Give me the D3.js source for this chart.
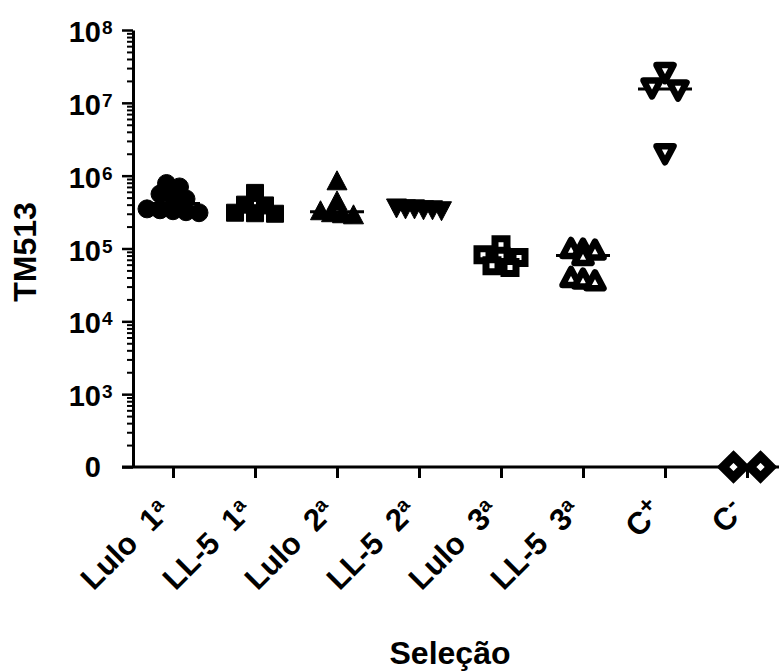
<!DOCTYPE html>
<html>
<head>
<meta charset="utf-8">
<script src="https://cdn.jsdelivr.net/npm/d3@7"></script>
<style>
  body { margin: 0; background: #fff; }
  text { font-family: Arial, "Liberation Sans", sans-serif; font-weight: bold; fill: #000; }
</style>
</head>
<body>
<script>
// groups on the x axis
const categories = ["Lulo 1a", "LL-5 1a", "Lulo 2a", "LL-5 2a", "Lulo 3a", "LL-5 3a", "C+", "C-"];
const labelMain = ["Lulo  1", "LL-5  1", "Lulo  2", "LL-5  2", "Lulo  3", "LL-5  3", "C", "C"];
const labelSup = ["a", "a", "a", "a", "a", "a", "+", "-"];

// TM513 values (0 = plotted on the "0" baseline)
const lulo1 = [780000, 700000, 560000, 510000, 480000, 350000, 340000, 330000, 320000, 310000];
const ll5_1 = [580000, 400000, 390000, 310000, 305000, 300000];
const lulo2 = [850000, 450000, 330000, 310000, 300000, 290000];
const ll5_2 = [360000, 350000, 350000, 340000, 340000, 330000];
const lulo3 = [113000, 82000, 78000, 75000, 58000, 55000];
const ll5_3 = [100000, 98000, 95000, 80000, 40000, 38000, 36000];
const cPlus = [26000000, 16000000, 15000000, 2000000];
const cMinus = [0, 0];

const groupValues = [lulo1, ll5_1, lulo2, ll5_2, lulo3, ll5_3, cPlus, cMinus];
const markerShapes = ["circle", "square", "triangle", "triangleDown", "squareOpen", "triangleOpen", "triangleDownOpen", "diamondOpen"];

// y ticks: exponents, bottom one is drawn as "0"
const yExponents = [2, 3, 4, 5, 6, 7, 8];

const width = 779, height = 671;

const svg = d3.select("body").append("svg")
    .attr("width", width)
    .attr("height", height);

const y = d3.scaleLog()
    .domain([1e2, 1e8])
    .range([467, 30]);

const x = d3.scalePoint()
    .domain(categories)
    .range([173, 747]);

const yv = v => v > 0 ? y(v) : y(1e2);

// minor log ticks
const minorTicks = [];
for (let e = 2; e < 8; e++) {
    for (let m = 2; m <= 9; m++) minorTicks.push(m * Math.pow(10, e));
}

const yMinor = svg.append("g")
    .attr("transform", "translate(133,0)")
    .call(d3.axisLeft(y).tickValues(minorTicks).tickSize(6).tickSizeOuter(0).tickFormat(""));
yMinor.select(".domain").remove();
yMinor.selectAll("line").attr("stroke-width", 2);

const yAxis = svg.append("g")
    .attr("transform", "translate(133,0)")
    .call(d3.axisLeft(y).tickValues(yExponents.map(e => Math.pow(10, e))).tickSize(11).tickSizeOuter(0).tickFormat(""));
yAxis.select(".domain").attr("stroke-width", 3);
yAxis.selectAll("line").attr("stroke-width", 2.5);

// y tick labels, 10 with superscript exponent
yExponents.forEach(e => {
    const ty = y(Math.pow(10, e));
    if (e === 2) {
        svg.append("text")
            .attr("x", 101).attr("y", ty + 10)
            .attr("text-anchor", "end")
            .style("font-size", "29px")
            .text("0");
    } else {
        svg.append("text")
            .attr("x", 101).attr("y", ty + 12)
            .attr("text-anchor", "end")
            .style("font-size", "29px")
            .text("10");
        svg.append("text")
            .attr("x", 102).attr("y", ty + 4)
            .style("font-size", "19px")
            .text(e);
    }
});

// x axis
const xAxis = svg.append("g")
    .attr("transform", "translate(0,467)")
    .call(d3.axisBottom(x).tickSize(11).tickSizeOuter(0).tickFormat(""));
xAxis.select(".domain").remove();
xAxis.selectAll("line").attr("stroke-width", 3);
svg.append("line")
    .attr("x1", 122).attr("x2", width)
    .attr("y1", 467).attr("y2", 467)
    .attr("stroke", "#000").attr("stroke-width", 3);

// rotated category labels
categories.forEach((c, i) => {
    const t = svg.append("text")
        .attr("transform", `translate(${x(c) - 1},${513}) rotate(-45)`)
        .attr("text-anchor", "end")
        .style("font-size", "31px")
        .style("white-space", "pre");
    t.append("tspan").text(labelMain[i]);
    t.append("tspan")
        .attr("dy", -10)
        .style("font-size", i < 6 ? "20px" : "24px")
        .text(labelSup[i]);
});

// axis titles
svg.append("text")
    .attr("transform", "translate(36,252) rotate(-90)")
    .attr("text-anchor", "middle")
    .style("font-size", "32px")
    .text("TM513");

svg.append("text")
    .attr("x", 450).attr("y", 664)
    .attr("text-anchor", "middle")
    .style("font-size", "32px")
    .text("Seleção");

// marker paths and stroke widths
function markerPath(shape) {
    switch (shape) {
        case "circle": return d3.symbol(d3.symbolCircle, Math.PI * 9 * 9)();
        case "square": return "M-8.5,-8.5h17v17h-17Z";
        case "squareOpen": return "M-6,-6h12v12h-12Z";
        case "triangle": return "M0,-10L10,9L-10,9Z";
        case "triangleDown": return "M0,10L10,-9L-10,-9Z";
        case "triangleOpen": return "M0,-8.5L8.5,7.5L-8.5,7.5Z";
        case "triangleDownOpen": return "M0,8.5L8.5,-7.5L-8.5,-7.5Z";
        case "diamondOpen": return "M0,-10.5L10.5,0L0,10.5L-10.5,0Z";
    }
}
const strokeOf = { squareOpen: 7, triangleOpen: 6.5, triangleDownOpen: 6.5, diamondOpen: 9 };

// spread points in horizontal rows, like a column scatter
function rows(vals, spacing, binH) {
    const pts = vals.map(v => ({ v: v, py: yv(v) })).sort((a, b) => a.py - b.py);
    const groups = [];
    pts.forEach(p => {
        const last = groups[groups.length - 1];
        if (last && p.py - last[0].py <= binH) last.push(p);
        else groups.push([p]);
    });
    groups.forEach(g => g.forEach((p, j) => { p.dx = (j - (g.length - 1) / 2) * spacing; }));
    return pts;
}

const spacing = [13, 20, 11, 9, 18, 12, 26, 27];

groupValues.forEach((vals, i) => {
    const cx = x(categories[i]);
    const shape = markerShapes[i];
    const open = shape.endsWith("Open");
    const pts = rows(vals, spacing[i], 6.5);

    // median line
    const med = d3.median(vals);
    svg.append("line")
        .attr("x1", cx - 27).attr("x2", cx + 27)
        .attr("y1", yv(med)).attr("y2", yv(med))
        .attr("stroke", "#000").attr("stroke-width", 3);

    svg.append("g").selectAll("path")
        .data(pts)
        .enter()
        .append("path")
        .attr("d", markerPath(shape))
        .attr("transform", d => `translate(${cx + d.dx},${d.py})`)
        .attr("fill", open ? "#fff" : "#000")
        .attr("stroke", "#000")
        .attr("stroke-width", open ? strokeOf[shape] : 1)
        .attr("stroke-linejoin", shape.startsWith("triangle") ? "round" : "miter");
});
</script>
</body>
</html>
